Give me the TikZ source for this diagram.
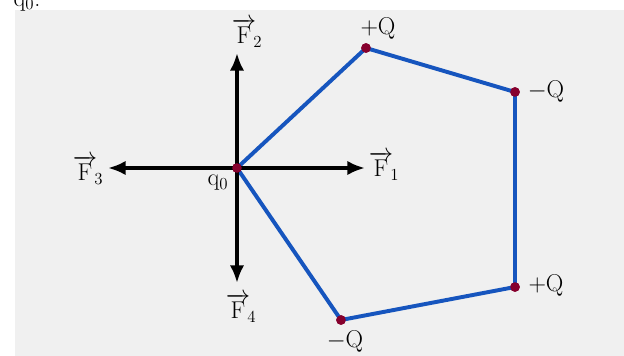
\documentclass[tikz,border=0pt]{standalone}
\usepackage{amsmath}
\usetikzlibrary{arrows.meta}

\begin{document}
\begin{tikzpicture}[
    x=0.25mm, y=-0.25mm,
    >={Latex[length=4.4mm,width=3.6mm]},
    font=\LARGE,
    % estilos
    charge/.style={circle, fill=purple!70!black, inner sep=0pt, minimum size=2.4mm},
    force/.style={->, line width=2.5pt, black},
    side/.style={line width=2.8pt, draw={rgb,255:red,22;green,85;blue,190}, line join=round},
    lbl/.style={inner sep=1pt}
]
\clip (0,0) rectangle (624,356);
\fill[gray!12] (15,10) rectangle (624,356);

% -------------------------
% CARGAS
% -------------------------
\node[charge] (q0) at (237,168) {};
\node[charge] (qa) at (366,48) {};
\node[charge] (qb) at (515,92) {};
\node[charge] (qc) at (515,287) {};
\node[charge] (qd) at (341,320) {};

\node[lbl] (lq0) at (218,183) {$\mathrm{q}_0$};
\node[lbl] (lqa) at (378,29) {$+\mathrm{Q}$};
\node[lbl] (lqb) at (546,92) {$-\mathrm{Q}$};
\node[lbl] (lqc) at (546,286) {$+\mathrm{Q}$};
\node[lbl] (lqd) at (345,342) {$-\mathrm{Q}$};
\node[lbl, anchor=base west] (top) at (12,6) {$\mathrm{q}_0$:};

% contorno
\draw[side] (qd.center) -- (q0.center) -- (qa.center) -- (qb.center) -- (qc.center) -- (qd.center);
\foreach \c in {q0,qa,qb,qc,qd} \node[charge] at (\c) {};

% -------------------------
% FUERZAS
% -------------------------
\coordinate (t1) at (365,168);
\coordinate (t2) at (237,53);
\coordinate (t3) at (108,168);
\coordinate (t4) at (237,283);

\draw[force] (q0.center) -- (t1);
\draw[force] (q0.center) -- (t2);
\draw[force] (q0.center) -- (t3);
\draw[force] (q0.center) -- (t4);
\node[charge] at (q0) {};

\node[lbl] (f1) at (384,166) {$\overrightarrow{\mathrm{F}}_{\!1}$};
\node[lbl] (f2) at (247,33) {$\overrightarrow{\mathrm{F}}_{\!2}$};
\node[lbl] (f3) at (88,170) {$\overrightarrow{\mathrm{F}}_{\!3}$};
\node[lbl] (f4) at (241,308) {$\overrightarrow{\mathrm{F}}_{\!4}$};

\end{tikzpicture}
\end{document}
